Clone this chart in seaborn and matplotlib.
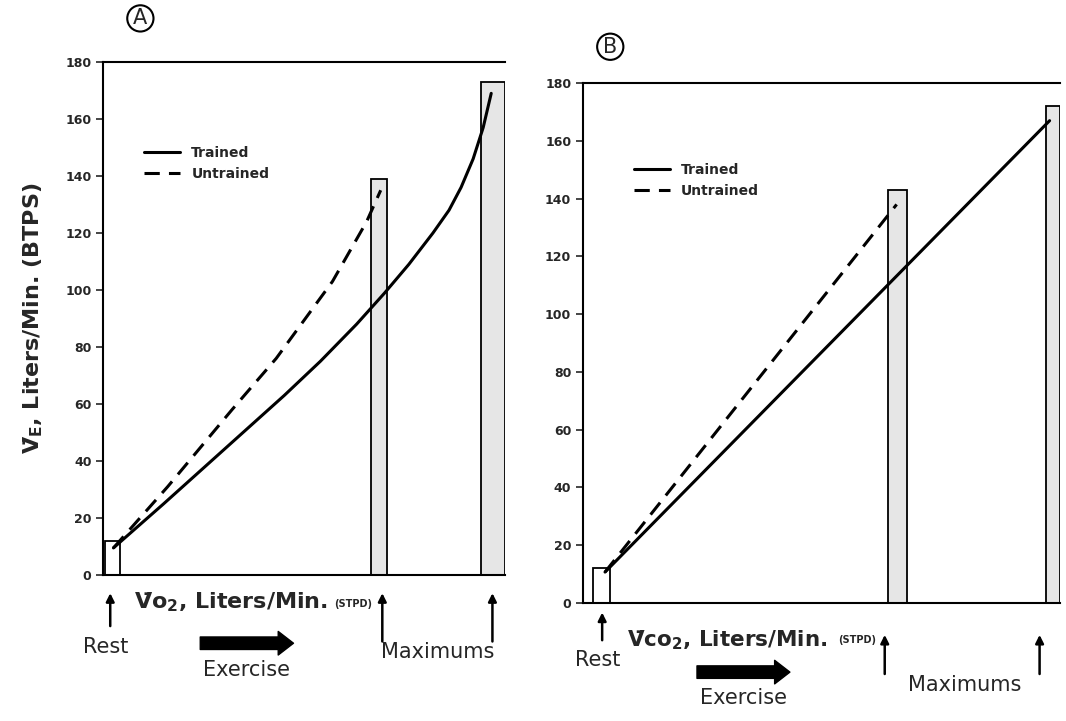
import matplotlib
matplotlib.use("Agg")
import matplotlib.pyplot as plt
import seaborn as sns
import pandas as pd

# ---------------- data ----------------
# Panel A: VE vs VO2
a_trained_x = [0.25, 1.5, 3.0, 4.5, 5.4, 6.3, 7.0, 7.6, 8.2, 8.6, 8.9, 9.2, 9.45, 9.65]
a_trained_y = [9.5, 25, 44, 63, 75, 88, 99, 109, 120, 128, 136, 146, 157, 169]
a_untrained_x = [0.25, 1.6, 3.2, 4.3, 5.7, 6.55, 6.9]
a_untrained_y = [9.5, 31, 58, 76, 103, 124, 135]
# boxes: (left, right, top)
a_box_left = [0.05, 6.65, 9.40]
a_box_right = [0.42, 7.06, 10.0]
a_box_top = [12, 139, 173]

# Panel B: VE vs VCO2
b_trained_x = [0.46, 9.79]
b_trained_y = [10.7, 167]
b_untrained_x = [0.46, 6.58]
b_untrained_y = [10.7, 138]
b_box_left = [0.21, 6.40, 9.71]
b_box_right = [0.57, 6.80, 10.0]
b_box_top = [12, 143, 172]

yticks = [0, 20, 40, 60, 80, 100, 120, 140, 160, 180]
groups = ["Trained", "Untrained"]

# ---------------- figure ----------------
sns.set_theme(style="white")
plt.rcParams["font.family"] = ["DejaVu Sans"]
plt.rcParams["mathtext.fontset"] = "dejavusans"

fig = plt.figure(figsize=(10.66, 7.21), dpi=100)
axA = fig.add_axes([0.097, 0.2025, 0.377, 0.7115])
axB = fig.add_axes([0.547, 0.1637, 0.447, 0.721])


def make_df(tx, ty, ux, uy):
    return pd.DataFrame({
        "x": list(tx) + list(ux),
        "y": list(ty) + list(uy),
        "Group": [groups[0]] * len(tx) + [groups[1]] * len(ux),
    })


def draw_panel(ax, df, bl, br, bt, letter, letter_pos, leg_anchor):
    widths = [r - l for l, r in zip(bl, br)]
    faces = ["white", "#e6e6e6", "#e6e6e6"]
    ax.bar(bl, bt, width=widths, align="edge", color=faces,
           edgecolor="black", linewidth=1.3, zorder=1)
    sns.lineplot(data=df, x="x", y="y", style="Group", hue="Group",
                 palette={"Trained": "black", "Untrained": "black"},
                 dashes={"Trained": "", "Untrained": (5, 3)},
                 estimator=None, sort=False, linewidth=2.2, ax=ax, zorder=3)
    ax.set_xlim(0, 10)
    ax.set_ylim(0, 180)
    ax.set_yticks(yticks)
    ax.set_yticklabels([str(v) for v in yticks], fontsize=9, fontweight="bold")
    ax.set_xticks([])
    ax.set_xlabel("")
    ax.set_ylabel("")
    ax.tick_params(axis="y", direction="out", length=5, width=1.2, left=True)
    for s in ["left", "bottom", "top"]:
        ax.spines[s].set_color("black")
        ax.spines[s].set_linewidth(1.5)
    ax.spines["right"].set_visible(False)
    ax.legend(title=None, loc="upper left", bbox_to_anchor=leg_anchor,
              frameon=False, handlelength=2.6,
              prop={"weight": "bold", "size": 10})
    ax.text(letter_pos[0], letter_pos[1], letter, transform=ax.transAxes,
            fontsize=15, ha="center", va="center",
            bbox=dict(boxstyle="circle,pad=0.15", fc="white", ec="black", lw=1.5))


draw_panel(axA, make_df(a_trained_x, a_trained_y, a_untrained_x, a_untrained_y),
           a_box_left, a_box_right, a_box_top, "A", (0.092, 1.085), (0.07, 0.86))
draw_panel(axB, make_df(b_trained_x, b_trained_y, b_untrained_x, b_untrained_y),
           b_box_left, b_box_right, b_box_top, "B", (0.057, 1.07), (0.08, 0.87))

axA.set_ylabel("V\u0307$_\\mathbf{E}$, Liters/Min. (BTPS)",
               fontsize=16, fontweight="bold")
axA.yaxis.set_label_coords(-0.145, 0.5)


def annotate_below(ax, rest_x, rest_arrow_y, rest_text_xy, max_xs, max_arrow_y,
                   max_text_xy, xlab, xlab_size, xlab_pos, stpd_pos, ex_x, ex_y,
                   ex_text_y):
    tr = ax.get_xaxis_transform()
    arrows = [(rest_x, rest_arrow_y)] + [(mx, max_arrow_y) for mx in max_xs]
    for xx, (y0, y1) in arrows:
        ax.annotate("", xy=(xx, y1), xytext=(xx, y0),
                    xycoords=tr, textcoords=tr, annotation_clip=False,
                    arrowprops=dict(arrowstyle="-|>", lw=1.8, color="black",
                                    mutation_scale=12))
    ax.text(rest_text_xy[0], rest_text_xy[1], "Rest", transform=tr,
            ha="center", va="center", fontsize=15)
    ax.text(max_text_xy[0], max_text_xy[1], "Maximums", transform=tr,
            ha="center", va="center", fontsize=15)
    ax.text(xlab_pos[0], xlab_pos[1], xlab, transform=ax.transAxes, ha="left",
            va="center", fontsize=xlab_size, fontweight="bold")
    ax.text(stpd_pos[0], stpd_pos[1], "(STPD)", transform=ax.transAxes,
            ha="left", va="center", fontsize=7, fontweight="bold")
    ax.annotate("", xy=(ex_x[1], ex_y), xytext=(ex_x[0], ex_y),
                xycoords=tr, textcoords=tr, annotation_clip=False,
                arrowprops=dict(facecolor="black", edgecolor="black", width=9,
                                headwidth=17, headlength=11, shrink=0))
    ax.text((ex_x[0] + ex_x[1]) / 2, ex_text_y, "Exercise", transform=tr,
            ha="center", va="center", fontsize=15)


annotate_below(axA, 0.17, (-0.105, -0.03), (0.05, -0.14),
               [6.94, 9.68], (-0.135, -0.03), (8.33, -0.15),
               "V\u0307o$_\\mathbf{2}$, Liters/Min.", 16,
               (0.075, -0.053), (0.575, -0.057), (2.41, 4.73), -0.133, -0.185)
annotate_below(axB, 0.40, (-0.077, -0.013), (0.31, -0.11),
               [6.33, 9.58], (-0.142, -0.056), (8.0, -0.158),
               "V\u0307co$_\\mathbf{2}$, Liters/Min.", 15.5,
               (0.092, -0.071), (0.535, -0.071), (2.39, 4.34), -0.133, -0.183)

fig.savefig("out.png", dpi=100, facecolor="white")
